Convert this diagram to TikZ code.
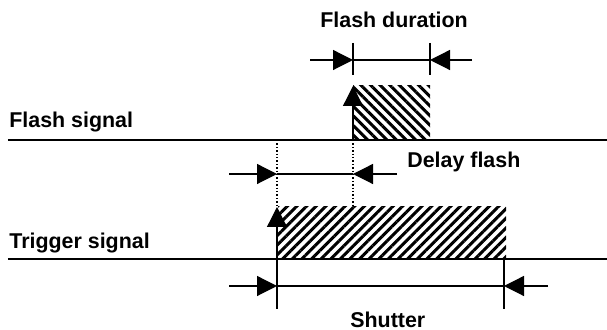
\documentclass[tikz,border=0pt]{standalone}
\usepackage{fontspec}
\setmainfont{Liberation Sans}
\usepackage{tikz}
\usetikzlibrary{positioning, arrows.meta, patterns.meta}

\begin{document}
\begin{tikzpicture}[
  x=0.5pt, y=-0.5pt,
  label/.style={anchor=base west, inner sep=0pt, font=\fontsize{10.7}{12}\selectfont\bfseries},
  sig/.style={line width=0.6pt},
  dimline/.style={line width=0.6pt},
  tick/.style={line width=0.6pt},
  guide/.style={line width=0.7pt, densely dotted},
  arrow/.style={-{Triangle[length=10pt, width=10pt]}, line width=0.6pt},
  hatchflash/.style={pattern={Lines[angle=-45, distance=3.4pt, line width=1.5pt]}},
  hatchtrig/.style={pattern={Lines[angle=45, distance=3.4pt, line width=1.5pt]}}
]
\useasboundingbox (0,0) rectangle (607,330);

% ===== Labels =====
\node[label] (durlbl) at (320,28) {Flash duration};
\node[label] (flashlbl) at (9,128) {Flash signal};
\node[label] (delaylbl) at (407,168) {Delay flash};
\node[label] (triglbl) at (9,249) {Trigger signal};
\node[label] (shutlbl) at (350,328) {Shutter};

% ===== Signal lines =====
\coordinate (fs0) at (8,140);
\coordinate (fs1) at (607,140);
\coordinate (ts0) at (8,259);
\coordinate (ts1) at (607,259);

% hatched pulses (drawn first, lines on top)
\path[hatchflash] (353,86) coordinate (fpa) rectangle (430,140) coordinate (fpb);
\path[hatchtrig] (278,207) coordinate (tpa) rectangle (506,259) coordinate (tpb);

\draw[sig] (fs0) -- (fs1);
\draw[sig] (ts0) -- (ts1);

% rising edges
\coordinate (fup0) at (353,140);
\coordinate (fup1) at (353,86);
\coordinate (tup0) at (277,259);
\coordinate (tup1) at (277,207);
\draw[arrow] (fup0) -- (fup1);
\draw[arrow] (tup0) -- (tup1);

% ===== Flash duration =====
\coordinate (fdL) at (353,60);
\coordinate (fdR) at (430,60);
\draw[tick] (353,43) -- (353,75);
\draw[tick] (430,43) -- (430,75);
\draw[arrow] (310,60) coordinate (fdLin) -- (fdL);
\draw[dimline] (fdL) -- (fdR);
\draw[arrow] (472,60) coordinate (fdRin) -- (fdR);

% ===== Delay flash =====
\coordinate (dfL) at (277,174);
\coordinate (dfR) at (353,174);
\draw[guide] (277,140) -- (tup1);
\draw[guide] (fup0) -- (353,207);
\draw[arrow] (229,174) coordinate (dfLin) -- (dfL);
\draw[dimline] (dfL) -- (dfR);
\draw[arrow] (397,174) coordinate (dfRin) -- (dfR);

% ===== Shutter =====
\coordinate (shL) at (277,286);
\coordinate (shR) at (504,286);
\draw[tick] (tup0) -- (277,309);
\draw[tick] (504,260) -- (504,309);
\draw[arrow] (229,286) coordinate (shLin) -- (shL);
\draw[dimline] (shL) -- (shR);
\draw[arrow] (548,286) coordinate (shRin) -- (shR);

\end{tikzpicture}
\end{document}
